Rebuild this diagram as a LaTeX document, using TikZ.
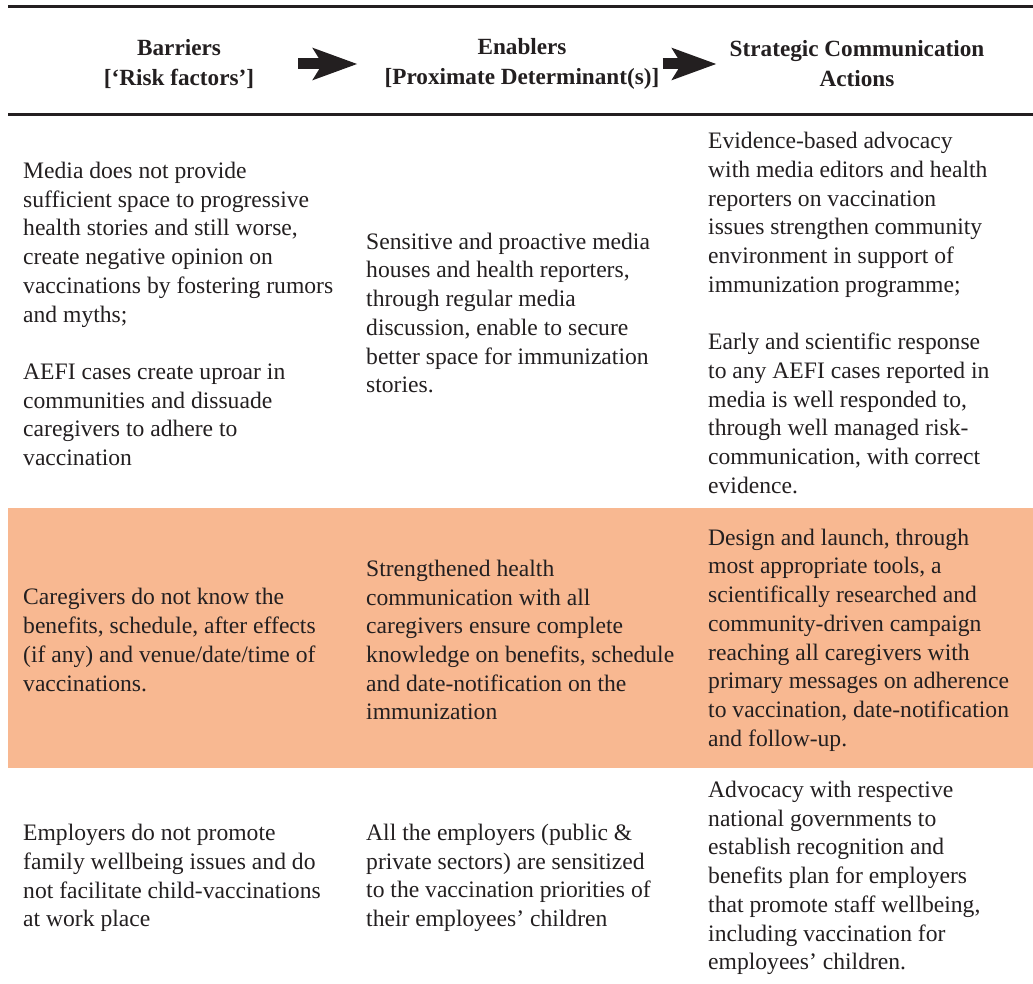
\documentclass[tikz,border=0pt]{standalone}
\usepackage{fontspec}
\setmainfont{Liberation Serif}
\usepackage{xcolor}
\usetikzlibrary{positioning}
\usetikzlibrary{arrows.meta}
\definecolor{bandorange}{HTML}{F8B891}
\definecolor{inkgray}{HTML}{231F20}

\begin{document}
\begin{tikzpicture}[x=1pt, y=-1pt,
    cell/.style={anchor=west, align=left, inner sep=0pt, text=inkgray, font=\fontsize{23.6}{28.7}\selectfont},
    head/.style={align=center, inner sep=0pt, text=inkgray, font=\fontsize{23.2}{30}\selectfont\bfseries},
    flow/.style={draw=inkgray, line width=11pt, -{Stealth[length=44pt, width=31pt, inset=9pt]}}]
    \useasboundingbox (0,0) rectangle (1033,984);

    \fill[bandorange] (8,508) rectangle (1033,768);
    \draw[inkgray, line width=3pt] (8,7) -- (1033,7);
    \draw[inkgray, line width=3pt] (8,115) -- (1033,115);

    \node (hdr_barriers) [head] at (179,64) {Barriers\\{[}‘Risk factors’{]}};
    \node (hdr_enablers) [head] at (522,64) {Enablers\\{[}Proximate Determinant(s){]}};
    \node (hdr_actions) [head] at (857,64) {Strategic Communication\\Actions};

    \draw[flow, shorten <=44pt, shorten >=27pt] (hdr_barriers.east) -- (hdr_enablers.west);
    \draw[flow, shorten <=3pt, shorten >=13pt] (hdr_enablers.east) -- (hdr_actions.west);

    \node (barrier_media) [cell] at (23,314) {Media does not provide\\ sufficient space to progressive\\ health stories and still worse,\\ create negative opinion on\\ vaccinations by fostering rumors\\ and myths;\\[28.7pt] AEFI cases create uproar in\\ communities and dissuade\\ caregivers to adhere to\\ vaccination};
    \node (enabler_media) [cell] at (366,313) {Sensitive and proactive media\\ houses and health reporters,\\ through regular media\\ discussion, enable to secure\\ better space for immunization\\ stories.};
    \node (action_media) [cell] at (708,313) {Evidence-based advocacy\\ with media editors and health\\ reporters on vaccination\\ issues strengthen community\\ environment in support of\\ immunization programme;\\[28.7pt] Early and scientific response\\ to any AEFI cases reported in\\ media is well responded to,\\ through well managed risk-\\ communication, with correct\\ evidence.};

    \node (barrier_care) [cell] at (23,640) {Caregivers do not know the\\ benefits, schedule, after effects\\ (if any) and venue/date/time of\\ vaccinations.};
    \node (enabler_care) [cell] at (366,640) {Strengthened health\\ communication with all\\ caregivers ensure complete\\ knowledge on benefits, schedule\\ and date-notification on the\\ immunization};
    \node (action_care) [cell] at (708,640) {Design and launch, through\\ most appropriate tools, a\\ scientifically researched and\\ community-driven campaign\\ reaching all caregivers with\\ primary messages on adherence\\ to vaccination, date-notification\\ and follow-up.};

    \node (barrier_work) [cell] at (23,878) {Employers do not promote\\ family wellbeing issues and do\\ not facilitate child-vaccinations\\ at work place};
    \node (enabler_work) [cell] at (366,878) {All the employers (public \&\\ private sectors) are sensitized\\ to the vaccination priorities of\\ their employees’ children};
    \node (action_work) [cell] at (708,878) {Advocacy with respective\\ national governments to\\ establish recognition and\\ benefits plan for employers\\ that promote staff wellbeing,\\ including vaccination for\\ employees’ children.};

    \end{tikzpicture}
\end{document}
